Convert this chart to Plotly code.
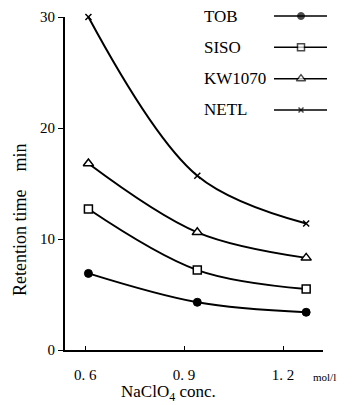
import plotly.graph_objects as go

# ---- data ----
conc = [0.61, 0.94, 1.27]
series_names = ["TOB", "SISO", "KW1070", "NETL"]
tob = [6.9, 4.3, 3.4]
siso = [12.7, 7.2, 5.5]
kw1070 = [16.8, 10.6, 8.3]
netl = [30.0, 15.7, 11.4]
x_ticks = [0.6, 0.9, 1.2]
x_ticklabels = ["0. 6", "0. 9", "1. 2"]
y_ticks = [0, 10, 20, 30]

FONT = "Liberation Serif, Times New Roman, serif"
W, H = 352, 405
ML, MR, MT, MB = 65, 10, 5, 55
PW = W - ML - MR
PH = H - MT - MB
main_right = 258 / PW
main_top = (350 - 17) / PH

styles = {
    "TOB": dict(symbol="circle", size=8, color="black", line=dict(color="black", width=1)),
    "SISO": dict(symbol="square", size=8, color="white", line=dict(color="black", width=1.5)),
    "KW1070": dict(symbol="triangle-up", size=9, color="white", line=dict(color="black", width=1.5)),
    "NETL": dict(symbol="x-thin", size=6, color="black", line=dict(color="black", width=1.5)),
}
values = {"TOB": tob, "SISO": siso, "KW1070": kw1070, "NETL": netl}

fig = go.Figure()
for name in series_names:
    fig.add_trace(go.Scatter(
        x=conc, y=values[name], mode="lines+markers", name=name,
        line=dict(color="black", width=2, shape="spline", smoothing=1.0),
        marker=styles[name], showlegend=False, cliponaxis=False,
    ))

# custom legend (text left, sample on right) in an auxiliary axis measured in pixels
for i, name in enumerate(series_names):
    fig.add_trace(go.Scatter(
        x=[274, 301, 327], y=[i, i, i], mode="lines+markers",
        line=dict(color="black", width=1.5),
        marker=dict(symbol=styles[name]["symbol"], size=[0, styles[name]["size"] - 1, 0],
                    color=styles[name]["color"], line=styles[name]["line"]),
        xaxis="x2", yaxis="y2", showlegend=False, hoverinfo="skip", cliponaxis=False,
    ))
    fig.add_annotation(x=202, y=i, xref="x2", yref="y2", text=name, showarrow=False,
                       xanchor="left", yanchor="middle",
                       font=dict(family=FONT, size=17, color="black"))

fig.update_layout(
    width=W, height=H, margin=dict(l=ML, r=MR, t=MT, b=MB, autoexpand=False),
    plot_bgcolor="white", paper_bgcolor="white",
    xaxis=dict(domain=[0, main_right], range=[0.539, 1.321], tickvals=x_ticks,
               ticktext=x_ticklabels, ticks="inside", ticklen=4, tickcolor="black",
               showline=True, linecolor="black", linewidth=2, showgrid=False,
               zeroline=False, ticklabelstandoff=10, automargin=False,
               tickfont=dict(family=FONT, size=15, color="black")),
    yaxis=dict(domain=[0, main_top], range=[0, 30], tickvals=y_ticks,
               ticks="outside", ticklen=5, tickcolor="black",
               showline=True, linecolor="black", linewidth=2, showgrid=False,
               zeroline=False, automargin=False,
               tickfont=dict(family=FONT, size=15, color="black")),
    xaxis2=dict(domain=[135 / PW, 265 / PW], range=[200, 330], visible=False,
                anchor="y2", automargin=False),
    yaxis2=dict(domain=[(350 - 120) / PH, (350 - 8) / PH], range=[3.32, -0.256],
                visible=False, anchor="x2", automargin=False),
)

# axis titles
fig.add_annotation(x=(20 - ML) / PW, y=(350 - 220) / PH, xref="paper", yref="paper",
                   text="Retention time    min", textangle=-90, showarrow=False,
                   xanchor="center", yanchor="middle",
                   font=dict(family=FONT, size=18, color="black"))
fig.add_annotation(x=(168 - ML) / PW, y=(350 - 393) / PH, xref="paper", yref="paper",
                   text="NaClO<sub>4</sub> conc.", showarrow=False,
                   xanchor="center", yanchor="middle",
                   font=dict(family=FONT, size=17, color="black"))
fig.add_annotation(x=(311 - ML) / PW, y=(350 - 377) / PH, xref="paper", yref="paper",
                   text="mol/l", showarrow=False, xanchor="left", yanchor="middle",
                   font=dict(family=FONT, size=11, color="black"))

fig.write_html("out.html", config={"displayModeBar": False},
               post_script="document.body.style.margin='0';")
